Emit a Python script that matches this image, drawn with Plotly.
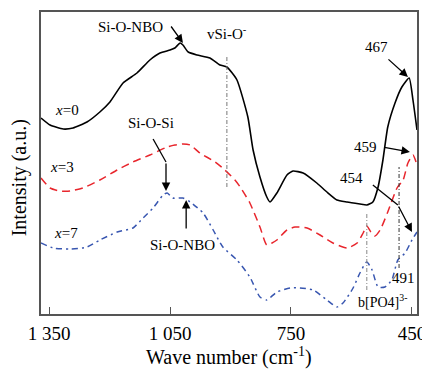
import plotly.graph_objects as go

# Wave numbers (cm^-1) and intensities (a.u.)
wn_x0 = [1370, 1347.5, 1315, 1290.5, 1256, 1224, 1199, 1166.5, 1132, 1100, 1075, 1050, 1038, 1025,
         1018, 1005, 983, 951, 926, 909, 884, 857, 844, 827, 810, 802, 785, 760, 745, 720, 686, 661,
         636, 611, 579, 562, 547, 534, 522, 510, 492, 475, 457, 447.5, 437.5]
int_x0 = [196, 189, 185, 186, 192, 202, 212, 231, 241, 254, 261, 264, 266, 271,
          269, 262, 259, 256, 249, 247, 234, 197, 164, 137, 117, 112, 121, 139, 143, 141, 131, 122,
          114, 112, 110, 109, 112, 127, 154, 187, 211, 227, 236, 214, 184]

wn_x3 = [1370, 1347.5, 1323, 1298, 1266, 1224, 1181, 1142, 1100, 1057, 1038, 1018, 1000, 976, 938,
         914, 889, 876, 852, 827, 810, 797, 785, 760, 740, 710, 678, 646, 611, 586, 571, 562, 552,
         542, 529, 510, 487, 472, 460, 447.5, 437.5]
int_x3 = [136, 126, 123, 123, 126, 134, 144, 152, 159, 167, 169, 170, 169, 161, 152,
          144, 134, 127, 111, 87, 69, 71, 74, 84, 87, 86, 79, 71, 66, 71, 81, 88, 82,
          78, 84, 102, 126, 134, 151, 159, 149]

wn_x7 = [1370, 1340, 1298, 1256, 1224, 1181, 1142, 1117, 1092, 1067, 1057, 1043, 1018, 1000, 968,
         943, 919, 884, 852, 827, 810, 785, 752, 728, 695, 661, 636, 621, 596, 579, 562, 549, 534,
         517, 500, 485, 467, 450, 437.5]
int_x7 = [71, 66, 65, 67, 74, 82, 86, 96, 106, 119, 121, 116, 116, 112, 101,
          84, 67, 54, 37, 17, 14, 22, 26, 26, 24, 14, 7, 11, 26, 41, 52, 44, 27,
          27, 34, 54, 61, 74, 82]

series_names = ["x=0", "x=3", "x=7"]
tick_vals = [1350, 1050, 750, 450]
tick_text = ["1 350", "1 050", "750", "450"]

FONT = "Liberation Serif"

fig = go.Figure()
fig.add_trace(go.Scatter(x=wn_x0, y=int_x0, mode="lines", name=series_names[0],
                         line=dict(color="black", width=1.6, shape="spline", smoothing=0.5)))
fig.add_trace(go.Scatter(x=wn_x3, y=int_x3, mode="lines", name=series_names[1],
                         line=dict(color="#e8262d", width=1.5, dash="8px,5px", shape="spline", smoothing=0.6)))
fig.add_trace(go.Scatter(x=wn_x7, y=int_x7, mode="lines", name=series_names[2],
                         line=dict(color="#3856b0", width=1.5, dash="6px,4px,2px,4px", shape="spline", smoothing=0.6)))

# vertical marker lines
vlines = [(909, 127, 257, "#777"), (562, 24, 102, "#888"), (482, 46, 147, "#333")]
for xv, y0, y1, c in vlines:
    fig.add_shape(type="line", xref="x", yref="y", x0=xv, x1=xv, y0=y0, y1=y1,
                  line=dict(color=c, width=1, dash="4px,2px,1px,2px"))

# connector segments for bent arrows
fig.add_shape(type="line", xref="x", yref="y", x0=1092, y0=175, x1=1060, y1=152,
              line=dict(color="black", width=1.3))
fig.add_shape(type="line", xref="x", yref="y", x0=547, y0=129, x1=485, y1=109,
              line=dict(color="black", width=1.3))

def txt(x, y, s, size=15):
    fig.add_annotation(x=x, y=y, xref="x", yref="y", text=s, showarrow=False,
                       font=dict(family=FONT, size=size, color="black"))

def arrow(x0, y0, x1, y1):
    fig.add_annotation(x=x1, y=y1, ax=x0, ay=y0, xref="x", yref="y", axref="x", ayref="y",
                       text="", showarrow=True, arrowhead=2, arrowsize=1.3, arrowwidth=1.3,
                       arrowcolor="black")

txt(1147, 287, "Si-O-NBO")
arrow(1050, 289, 1018, 271)
txt(909, 281, "vSi-O<sup>-</sup>")
txt(539, 267, "467")
arrow(512, 256, 460, 237)
txt(564, 167, "459")
arrow(522, 167, 455, 162)
txt(599, 136, "454")
arrow(485, 109, 450, 82)
txt(472, 36, "491")
txt(522, 13, "b[PO4]<sup>3-</sup>", size=14)
txt(1097, 191, "Si-O-Si")
arrow(1060, 152, 1060, 123)
txt(1020, 69, "Si-O-NBO")
arrow(1010, 84, 1010, 114)
txt(1305, 204, "<i>x</i>=0")
txt(1318, 147, "<i>x</i>=3")
txt(1308, 81, "<i>x</i>=7")

# axis titles
fig.add_annotation(xref="paper", yref="paper", x=-0.058, y=0.45, xanchor="center", yanchor="middle",
                   text="Intensity (a.u.)", textangle=-90, showarrow=False,
                   font=dict(family=FONT, size=20, color="black"))
fig.add_annotation(xref="paper", yref="paper", x=0.5, y=-0.142, xanchor="center", yanchor="middle",
                   text="Wave number (cm<sup>-1</sup>)", showarrow=False,
                   font=dict(family=FONT, size=20, color="black"))

# page body has an 8px margin, so the figure is drawn 8px smaller and offset
fig.update_layout(
    template="none",
    width=422, height=363,
    margin=dict(l=33, r=13, t=4, b=57, autoexpand=False),
    paper_bgcolor="white", plot_bgcolor="white",
    showlegend=False,
    font=dict(family=FONT, color="black"),
    xaxis=dict(range=[1370, 437.5], tickvals=tick_vals, ticktext=tick_text,
               ticks="inside", ticklen=7, tickwidth=1.3, tickcolor="#555",
               showline=True, linecolor="#555", linewidth=2, mirror=True,
               showgrid=False, zeroline=False, automargin=False, ticklabelstandoff=1,
               tickfont=dict(family=FONT, size=19, color="black")),
    yaxis=dict(range=[0, 302], showticklabels=False, ticks="",
               showline=True, linecolor="#555", linewidth=2, mirror=True,
               showgrid=False, zeroline=False, automargin=False),
)

fig.write_html("out.html")
